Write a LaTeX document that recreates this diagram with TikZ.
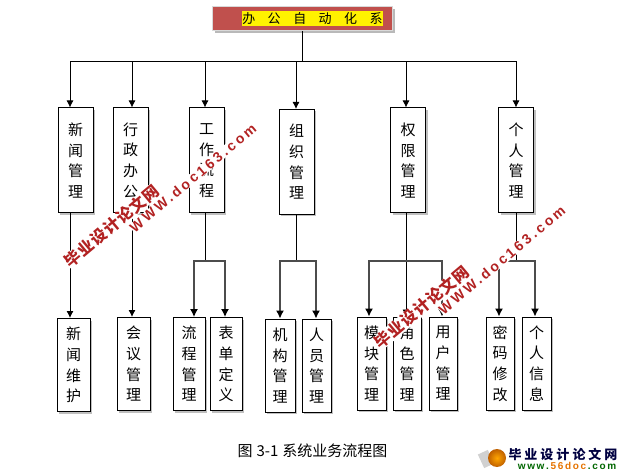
\documentclass[tikz,border=0pt]{standalone}
\usepackage{fontspec}
\setmainfont{Noto Sans CJK SC}
\newfontfamily\wmfont[LetterSpace=20]{Liberation Sans}
\newfontfamily\wmcjk[LetterSpace=6]{Noto Sans CJK SC}
\newfontfamily\logofont{Liberation Sans}
\usetikzlibrary{shapes,shadows,arrows,arrows.meta}
\definecolor{titlered}{RGB}{192,80,77}
\definecolor{wmred}{RGB}{178,34,34}
\begin{document}
\begin{tikzpicture}[x=1pt,y=-1pt]
\tikzset{
block/.style={rectangle,draw=black,fill=white,line width=1pt,minimum width=35pt,minimum height=105pt,inner sep=0pt,text width=16pt,align=center,font=\fontsize{15}{20.7}\selectfont,drop shadow={shadow xshift=2pt,shadow yshift=-2pt,fill=gray!50,opacity=1}},
leaf/.style={block,minimum width=29pt,minimum height=93pt},
myarrow/.style={-{Latex[length=7pt,width=7pt]}, line width=0.9pt},
branch/.style={-{Latex[length=8pt,width=8pt,black]}, line width=1.2pt, black!70},
myline/.style={line width=0.9pt},
watermark/.style={rotate=40,text=wmred,inner sep=0pt,fill=white,font=\bfseries},
}
\useasboundingbox (0,0) rectangle (638,476);

\node [rectangle,draw=white!85!black,fill=titlered,line width=1pt,minimum width=180pt,minimum height=24pt,drop shadow={shadow xshift=2.5pt,shadow yshift=-2.5pt,fill=gray!55,opacity=1}] (title) at (302,19) {};
\node [fill=yellow,minimum width=139pt,minimum height=15pt,inner sep=0pt,font=\fontsize{13}{13}\selectfont] (titletext) at (312.5,18.5) {办\hspace{12.5pt}公\hspace{12.5pt}自\hspace{12.5pt}动\hspace{12.5pt}化\hspace{12.5pt}系};
\coordinate (bus) at (302,61);

\node [block] (news) at (75.5,160.5) {新\\闻\\管\\理};
\node [block, right of=news, node distance=55pt] (admin) {行\\政\\办\\公};
\node [block, right of=admin, node distance=76pt] (flow) {工\\作\\流\\程};
\node [block, right of=flow, node distance=90pt, yshift=-1.5pt] (org) {组\\织\\管\\理};
\node [block, right of=news, node distance=332.5pt] (perm) {权\\限\\管\\理};
\node [block, right of=perm, node distance=108pt] (person) {个\\人\\管\\理};

\node [leaf, below of=news, node distance=204.5pt, xshift=-2pt, minimum width=33pt] (newskeep) {新\\闻\\维\\护};
\node [leaf, below of=admin, node distance=203.5pt, xshift=3pt, minimum width=33pt] (meet) {会\\议\\管\\理};
\node [leaf, below of=flow, node distance=203.5pt, xshift=-17.5pt, minimum width=32pt] (flowmgr) {流\\程\\管\\理};
\node [leaf, below of=flow, node distance=203.5pt, xshift=19.5pt, minimum width=32pt] (formdef) {表\\单\\定\\义};
\node [leaf, below of=org, node distance=203.5pt, xshift=-16.5pt, minimum width=30pt] (orgmgr) {机\\构\\管\\理};
\node [leaf, below of=org, node distance=203.5pt, xshift=20pt] (staff) {人\\员\\管\\理};
\node [leaf, below of=perm, node distance=203pt, xshift=-36.5pt] (module) {模\\块\\管\\理};
\node [leaf, below of=perm, node distance=203pt, xshift=-1pt, minimum width=28pt] (role) {角\\色\\管\\理};
\node [leaf, below of=perm, node distance=203pt, xshift=35pt, minimum width=28pt] (user) {用\\户\\管\\理};
\node [leaf, below of=person, node distance=203pt, xshift=-16pt, minimum width=28pt] (pwd) {密\\码\\修\\改};
\node [leaf, below of=person, node distance=203pt, xshift=20.5pt] (info) {个\\人\\信\\息};

\coordinate (flowbus) at (205,261);
\coordinate (orgbus) at (296,261);
\coordinate (permbus) at (406,261);
\coordinate (personbus) at (516,261);

\draw[myline] (title.south) -- (bus);
\draw[myarrow] (bus) -| ([xshift=-5.5pt]news.north);
\draw[myarrow] (bus) -| ([xshift=1.5pt]admin.north);
\draw[myarrow] (bus) -| ([xshift=-1.5pt]flow.north);
\draw[myarrow] (bus) -| ([xshift=-0.5pt]org.north);
\draw[myarrow] (bus) -| ([xshift=-2pt]perm.north);
\draw[myarrow] (bus) -| (person.north);

\draw[myarrow] ([xshift=-5.5pt]news.south) -- ([xshift=-3.5pt]newskeep.north);
\draw[myarrow] ([xshift=1.5pt]admin.south) -- ([xshift=-1.5pt]meet.north);
\draw[myline] ([xshift=-1.5pt]flow.south) -- (flowbus);
\draw[branch] (flowbus) -| ([xshift=5pt]flowmgr.north);
\draw[branch] (flowbus) -| ([xshift=-1pt]formdef.north);
\draw[myline] ([xshift=-0.5pt]org.south) -- (orgbus);
\draw[branch] (orgbus) -| (orgmgr.north);
\draw[branch] (orgbus) -| ([xshift=-0.5pt]staff.north);
\draw[myline] ([xshift=-2pt]perm.south) -- (permbus);
\draw[branch] (permbus) -| ([xshift=-2.5pt]module.north);
\draw[myarrow] (permbus) -- ([xshift=-1pt]role.north);
\draw[branch] (permbus) -| ([xshift=-1pt]user.north);
\draw[myline] (person.south) -- (personbus);
\draw[branch] (personbus) -| ([xshift=-1pt]pwd.north);
\draw[branch] (personbus) -| ([xshift=-1.5pt]info.north);

\node [font=\fontsize{15}{15}\selectfont] (caption) at (312.5,451) {图\hspace{4pt}3-1\hspace{4pt}系统业务流程图};

% watermarks
\node [watermark] (mark1) at (112,226) {\fontsize{16}{16}\selectfont\wmcjk 毕业设计论文网};
\node [watermark] (mark2) at (193,178) {\fontsize{14}{14}\selectfont\wmfont WWW.doc163.com};
\node [watermark] (mark3) at (422,307) {\fontsize{16}{16}\selectfont\wmcjk 毕业设计论文网};
\node [watermark] (mark4) at (502,260) {\fontsize{14}{14}\selectfont\wmfont WWW.doc163.com};

% logo
\node [rectangle,rotate=25,fill=black!18,minimum width=11pt,minimum height=15pt,inner sep=0pt] (paper) at (486,459) {};
\node [circle,shading=radial,inner color=orange!70!yellow,outer color=orange!75!black,minimum size=18pt,inner sep=0pt] (ball) at (497,458) {};
\node [text=black!75!blue,inner sep=0pt,font=\fontsize{13}{13}\selectfont\bfseries] (logotop) at (563,454) {毕\hspace{3pt}业\hspace{3pt}设\hspace{3pt}计\hspace{3pt}论\hspace{3pt}文\hspace{3pt}网};
\node [text=black!60!green,inner sep=0pt,font=\fontsize{10}{10}\selectfont\bfseries] (logobottom) at (567,466) {\logofont w\,w\,w\,.\,\textcolor{orange!90!black}{5\,6\,d\,o\,c}\,.\,c\,o\,m};
\end{tikzpicture}
\end{document}
